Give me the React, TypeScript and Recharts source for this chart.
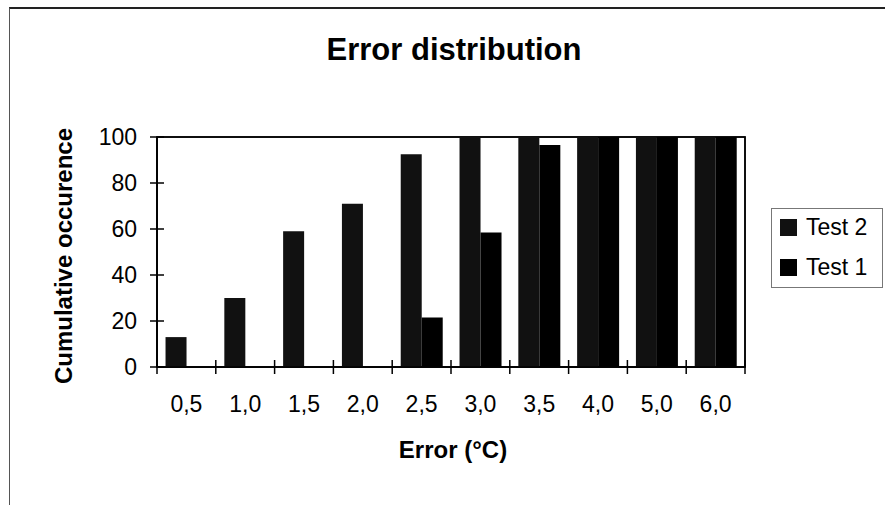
import React from 'react';
import { BarChart, Bar, XAxis, YAxis, Legend, ReferenceArea, Customized, usePlotArea } from 'recharts';

const categories = ['0,5', '1,0', '1,5', '2,0', '2,5', '3,0', '3,5', '4,0', '5,0', '6,0'];
const test2 = [13, 30, 59, 71, 92.5, 100, 100, 100, 100, 100];
const test1 = [0, 0, 0, 0, 21.5, 58.5, 96.5, 100, 100, 100];
const yTicks = [0, 20, 40, 60, 80, 100];
const seriesNames = ['Test 2', 'Test 1'];

const data = categories.map((error, i) => ({ error, test2: test2[i], test1: test1[i] }));

const W = 885;
const H = 505;
const LEFT = 157;
const RIGHT = 140;
const BAND = (W - LEFT - RIGHT) / categories.length;
const X_TICK_MARGIN = 29;
const Y_TICK_MARGIN = 20;
const FONT = '"Liberation Sans", Arial, sans-serif';

const YTick = ({ x, y, payload }: any) => (
  <g>
    <line x1={x + Y_TICK_MARGIN - 7} x2={x + Y_TICK_MARGIN + 7} y1={y} y2={y} stroke="#000" strokeWidth={1.5} />
    <text x={x} y={y} dy="0.36em" textAnchor="end" fontFamily={FONT} fontSize={23} fill="#000">
      {payload.value}
    </text>
  </g>
);

const XTick = ({ x, y, payload, index }: any) => {
  const axisY = y - X_TICK_MARGIN;
  return (
    <g>
      <line x1={x - BAND / 2} x2={x - BAND / 2} y1={axisY - 7} y2={axisY + 7} stroke="#000" strokeWidth={1.5} />
      {index === categories.length - 1 && (
        <line x1={x + BAND / 2} x2={x + BAND / 2} y1={axisY - 7} y2={axisY + 7} stroke="#000" strokeWidth={1.5} />
      )}
      <text x={x} y={y} dy="0.71em" textAnchor="middle" fontFamily={FONT} fontSize={23} fill="#000">
        {payload.value}
      </text>
    </g>
  );
};

const YTitle = ({ viewBox }: any) => {
  const cx = viewBox.x + 63;
  const cy = viewBox.y + viewBox.height / 2 + 4;
  return (
    <text
      x={cx}
      y={cy}
      transform={`rotate(-90 ${cx} ${cy})`}
      textAnchor="middle"
      dominantBaseline="central"
      fontFamily={FONT}
      fontSize={24}
      fontWeight="bold"
      fill="#000"
    >
      Cumulative occurence
    </text>
  );
};

const XTitle = ({ viewBox }: any) => (
  <text
    x={viewBox.x + viewBox.width / 2 + 2}
    y={viewBox.y + 91}
    textAnchor="middle"
    fontFamily={FONT}
    fontSize={24}
    fontWeight="bold"
    fill="#000"
  >
    Error (°C)
  </text>
);

const ChartTitle = () => (
  <text x={454} y={60} textAnchor="middle" fontFamily={FONT} fontSize={31} fontWeight="bold" fill="#000">
    Error distribution
  </text>
);

// plot box outline (Excel draws a full frame round the plot area)
const PlotFrame = () => {
  const area: any = typeof usePlotArea === 'function' ? usePlotArea() : null;
  if (!area) return null;
  return (
    <rect x={area.x} y={area.y} width={area.width} height={area.height} fill="none" stroke="#000" strokeWidth={1.5} />
  );
};

const renderLegend = ({ payload }: any) => {
  const items = [...(payload || [])].sort(
    (a: any, b: any) => seriesNames.indexOf(a.value) - seriesNames.indexOf(b.value)
  );
  return (
    <div
      style={{
        width: 112,
        height: 80,
        boxSizing: 'border-box',
        border: '1px solid #777',
        background: '#fff',
        fontFamily: FONT,
        fontSize: 23,
        color: '#000',
        padding: '0 0 0 8px',
      }}
    >
      {items.map((entry: any, i: number) => (
        <div
          key={entry.value}
          style={{ display: 'flex', alignItems: 'center', height: 40, marginTop: i === 0 ? -2 : 0 }}
        >
          <span style={{ width: 17, height: 17, background: entry.color, marginRight: 9, display: 'inline-block' }} />
          <span>{entry.value}</span>
        </div>
      ))}
    </div>
  );
};

export default function App() {
  return (
    <div style={{ position: 'absolute', left: 0, top: 0, width: W, height: H, background: '#fff' }}>
      <div
        style={{
          position: 'absolute',
          left: 9,
          top: 7,
          width: W - 9,
          height: H - 7,
          borderTop: '2px solid #222',
          borderLeft: '1px solid #555',
          boxSizing: 'border-box',
        }}
      />
      <BarChart
        width={W}
        height={H}
        data={data}
        margin={{ top: 137, right: RIGHT, bottom: 0, left: 0 }}
        barCategoryGap="14.5%"
        barGap={0}
      >
        <XAxis
          dataKey="error"
          height={H - 367}
          interval={0}
          tickSize={0}
          tickMargin={X_TICK_MARGIN}
          tickLine={false}
          axisLine={{ stroke: '#000', strokeWidth: 1.5 }}
          tick={(props: any) => <XTick {...props} />}
          label={{ value: 'Error (°C)', content: (props: any) => <XTitle {...props} /> }}
        />
        <YAxis
          width={LEFT}
          domain={[0, 100]}
          ticks={yTicks}
          interval={0}
          tickSize={0}
          tickMargin={Y_TICK_MARGIN}
          tickLine={false}
          axisLine={{ stroke: '#000', strokeWidth: 1.5 }}
          tick={(props: any) => <YTick {...props} />}
          label={{ value: 'Cumulative occurence', content: (props: any) => <YTitle {...props} /> }}
        />
        <Legend
          layout="vertical"
          align="center"
          verticalAlign="middle"
          wrapperStyle={{ position: 'absolute', left: 771, top: 208, width: 112, height: 80 }}
          content={renderLegend}
        />
        <Bar dataKey="test2" name="Test 2" fill="#111" isAnimationActive={false} />
        <Bar dataKey="test1" name="Test 1" fill="#000" isAnimationActive={false} />
        <ReferenceArea y1={0} y2={100} fill="none" fillOpacity={0} stroke="#000" strokeWidth={1.5} />
        <Customized component={PlotFrame} />
        <Customized component={ChartTitle} />
      </BarChart>
    </div>
  );
}
